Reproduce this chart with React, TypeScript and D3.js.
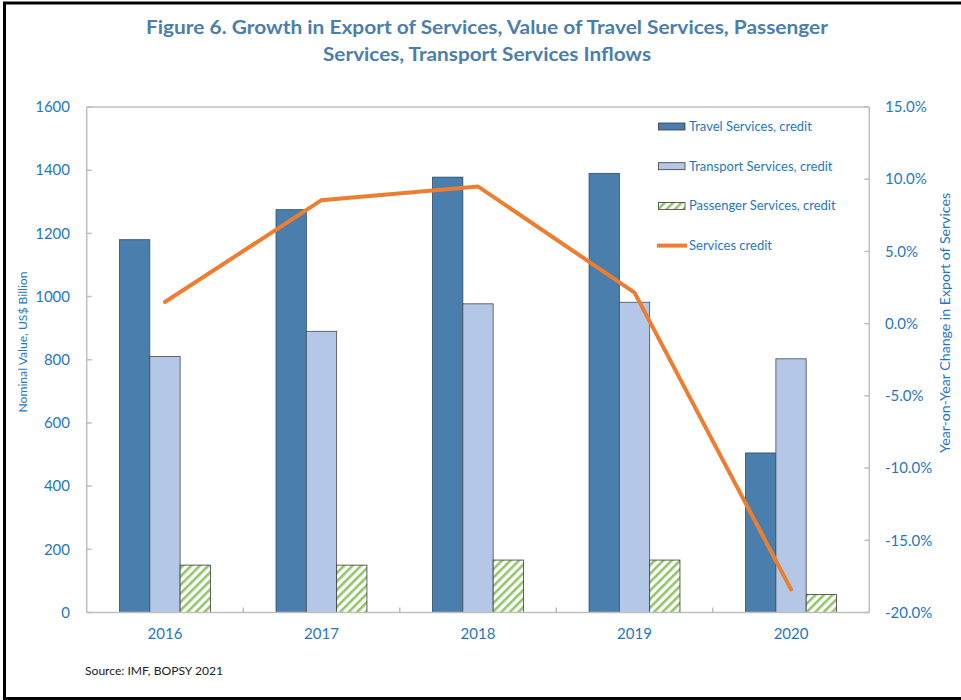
import React from "react";
import * as d3 from "d3";

const years = ["2016", "2017", "2018", "2019", "2020"];
const travel = [1180, 1275, 1378, 1390, 505];
const transport = [810, 890, 977, 982, 803];
const passenger = [150, 150, 166, 166, 57];
const servicesGrowth = [1.5, 8.55, 9.5, 2.15, -18.4];
const leftTicks = [0, 200, 400, 600, 800, 1000, 1200, 1400, 1600];
const rightTicks = [15, 10, 5, 0, -5, -10, -15, -20];

const legendItems = [
  { label: "Travel Services, credit", kind: "travel" },
  { label: "Transport Services, credit", kind: "transport" },
  { label: "Passenger Services, credit", kind: "passenger" },
  { label: "Services credit", kind: "line" },
];

const BLUE_TXT = "#1f77c4";
const FONT = "Lato, 'Open Sans', sans-serif";

export default function App() {
  const W = 961, H = 700;
  const left = 86.7, right = 869.3, top = 107, bottom = 612.5;
  const x = d3.scaleBand<string>().domain(years).range([left, right]);
  const yL = d3.scaleLinear().domain([0, 1600]).range([bottom, top]);
  const yR = d3.scaleLinear().domain([-20, 15]).range([bottom, top]);
  const bw = 30.3;
  const center = (yr: string) => (x(yr) as number) + x.bandwidth() / 2;
  const line = d3
    .line<number>()
    .x((_, i) => center(years[i]))
    .y((d) => yR(d));

  const fmtPct = (v: number) => v.toFixed(1) + "%";

  return (
    <svg width={W} height={H} style={{ position: "absolute", left: 0, top: 0 }} fontFamily={FONT}>
      <defs>
        <pattern id="stripes" width="6" height="6" patternUnits="userSpaceOnUse" patternTransform="rotate(45)">
          <rect width="6" height="6" fill="#ffffff" />
          <rect width="2.6" height="6" fill="#93c46a" />
        </pattern>
      </defs>
      <rect x={0} y={0} width={W} height={H} fill="#fff" />
      <rect x={4.5} y={3} width={1000} height={695.5} fill="none" stroke="#000" strokeWidth={3} />

      {/* title */}
      <text x={487} y={34} textAnchor="middle" fontSize={19} fontWeight="bold" fill="#4a7ead" textLength={682} lengthAdjust="spacingAndGlyphs">
        Figure 6. Growth in Export of Services, Value of Travel Services, Passenger
      </text>
      <text x={487} y={61} textAnchor="middle" fontSize={19} fontWeight="bold" fill="#4a7ead" textLength={328} lengthAdjust="spacingAndGlyphs">
        Services, Transport Services Inflows
      </text>

      {/* bars */}
      {years.map((yr, i) => {
        const c = center(yr);
        return (
          <g key={yr}>
            <rect x={c - 1.5 * bw} y={yL(travel[i])} width={bw} height={bottom - yL(travel[i])} fill="#4a7fad" stroke="#2c4a6b" strokeWidth={0.8} />
            <rect x={c - 0.5 * bw} y={yL(transport[i])} width={bw} height={bottom - yL(transport[i])} fill="#b4c7e7" stroke="#4a4a4a" strokeWidth={0.8} />
            <rect x={c + 0.5 * bw} y={yL(passenger[i])} width={bw} height={bottom - yL(passenger[i])} fill="url(#stripes)" stroke="#3a3a3a" strokeWidth={0.8} />
          </g>
        );
      })}

      {/* axes */}
      <g stroke="#bfbfbf" strokeWidth={1.5} fill="none">
        <line x1={left} x2={left} y1={top} y2={bottom} />
        <line x1={right} x2={right} y1={top} y2={bottom} />
        <line x1={left} x2={right} y1={bottom} y2={bottom} />
        <line x1={left} x2={right} y1={top} y2={top} />
        {leftTicks.map((t) => (
          <line key={"l" + t} x1={left} x2={left + 5} y1={yL(t)} y2={yL(t)} />
        ))}
        {rightTicks.map((t) => (
          <line key={"r" + t} x1={right - 5} x2={right} y1={yR(t)} y2={yR(t)} />
        ))}
        {years.slice(1).map((yr) => (
          <line key={"b" + yr} x1={x(yr)} x2={x(yr)} y1={bottom} y2={bottom - 5} />
        ))}
      </g>

      {/* services line */}
      <path d={line(servicesGrowth) || ""} fill="none" stroke="#ed7d31" strokeWidth={4} strokeLinecap="round" strokeLinejoin="miter" />

      {/* tick labels */}
      {leftTicks.map((t) => (
        <text key={"lt" + t} x={70} y={yL(t)} dy="0.35em" textAnchor="end" fontSize={15} fill={BLUE_TXT}>
          {t}
        </text>
      ))}
      {rightTicks.map((t) => (
        <text key={"rt" + t} x={885} y={yR(t)} dy="0.35em" textAnchor="start" fontSize={15} fill={BLUE_TXT}>
          {fmtPct(t)}
        </text>
      ))}
      {years.map((yr) => (
        <text key={"xt" + yr} x={center(yr)} y={634} dy="0.35em" textAnchor="middle" fontSize={15} fill={BLUE_TXT}>
          {yr}
        </text>
      ))}

      {/* axis titles */}
      <text transform="translate(23,342) rotate(-90)" textAnchor="middle" dy="0.35em" fontSize={12} fill={BLUE_TXT} textLength={141} lengthAdjust="spacingAndGlyphs">
        Nominal Value, US$ Billion
      </text>
      <text transform="translate(945,323) rotate(-90)" textAnchor="middle" dy="0.35em" fontSize={14} fill={BLUE_TXT} textLength={260} lengthAdjust="spacingAndGlyphs">
        Year-on-Year Change in Export of Services
      </text>

      {/* legend */}
      {legendItems.map((it, i) => {
        const cy = 126.5 + i * 39.7;
        return (
          <g key={it.label}>
            {it.kind === "line" ? (
              <line x1={657} x2={687} y1={cy} y2={cy} stroke="#ed7d31" strokeWidth={4} />
            ) : (
              <rect
                x={658.5}
                y={cy - 3.5}
                width={26.5}
                height={7}
                fill={it.kind === "travel" ? "#4a7fad" : it.kind === "transport" ? "#b4c7e7" : "url(#stripes)"}
                stroke="#3a3a3a"
                strokeWidth={0.8}
              />
            )}
            <text x={689} y={cy} dy="0.35em" fontSize={13} fill={BLUE_TXT}>
              {it.label}
            </text>
          </g>
        );
      })}

      {/* source */}
      <text x={85} y={675} fontSize={12} fill="#222" textLength={138} lengthAdjust="spacingAndGlyphs">
        Source: IMF, BOPSY 2021
      </text>
    </svg>
  );
}
